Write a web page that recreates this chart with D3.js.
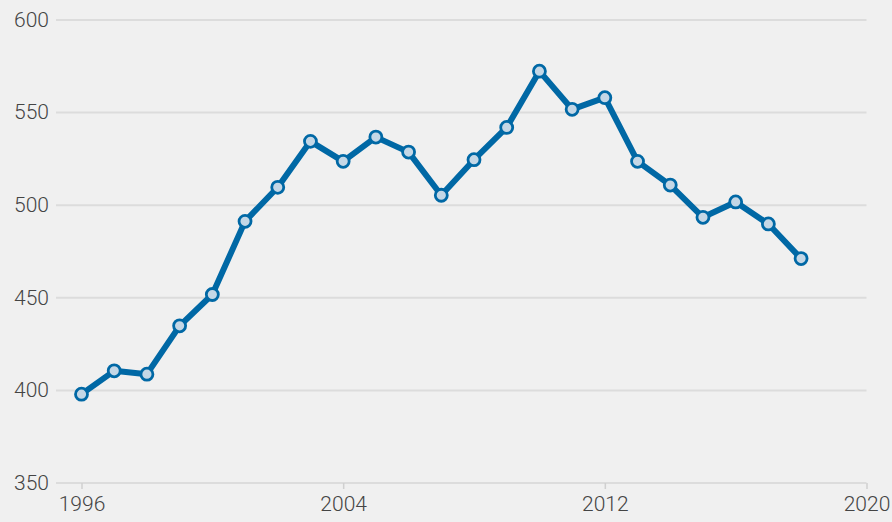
<!DOCTYPE html>
<html>
<head>
<meta charset="utf-8">
<script src="https://cdn.jsdelivr.net/npm/d3@7"></script>
<style>
  html, body { margin: 0; padding: 0; background: #f0f0f0; }
  svg { display: block; }
  .tick text { font-family: Roboto, sans-serif; font-weight: 300; font-size: 21px; fill: #444; }
</style>
</head>
<body>
<script>
var years = [1996,1997,1998,1999,2000,2001,2002,2003,2004,2005,2006,2007,2008,2009,2010,2011,2012,2013,2014,2015,2016,2017,2018];
var values = [397.7,410.3,408.5,434.6,451.5,491,509.4,534.2,523.4,536.5,528.4,505.1,524.3,541.7,572.1,551.5,557.8,523.4,510.6,493.2,501.5,489.6,470.9];
var xTicks = [1996,2004,2012,2020];
var yTicks = [350,400,450,500,550,600];

var width = 892;
var height = 522;
var gridLeft = 56;

var svg = d3.select('body')
			.append('svg')
			.attr('width',width)
			.attr('height',height);

var xScale = d3.scaleLinear()
				.domain([1996,2020])
				.range([81.5,866.5]);
var yScale = d3.scaleLinear()
				.domain([350,600])
				.range([482.5,19.5]);

// y grid + labels
var yAxis = svg.append('g')
				.attr('transform','translate('+gridLeft+',0)')
				.call(d3.axisLeft(yScale).tickValues(yTicks).tickSize(-(866.5-gridLeft)).tickPadding(7));
yAxis.select('.domain').remove();
yAxis.selectAll('.tick line').style('stroke','#dcdcdc').style('stroke-width',2);

// x ticks + labels
var xAxis = svg.append('g')
				.attr('transform','translate(0,483)')
				.call(d3.axisBottom(xScale).tickValues(xTicks).tickFormat(d3.format('d')).tickSize(6).tickPadding(7));
xAxis.select('.domain').remove();
xAxis.selectAll('.tick line').style('stroke','#d0d0d0').style('stroke-width',1.5);

var line = d3.line()
			.x((d,i)=>xScale(years[i]))
			.y((d)=>yScale(d));

svg.append('path')
	.datum(values)
	.attr('d',line)
	.attr('fill','none')
	.attr('stroke','#0068a5')
	.attr('stroke-width',6)
	.attr('stroke-linejoin','round');

svg.append('g')
	.selectAll('circle')
	.data(values)
	.enter()
	.append('circle')
	.attr('cx',(d,i)=>xScale(years[i]))
	.attr('cy',(d)=>yScale(d))
	.attr('r',6)
	.attr('fill','#c4d7e6')
	.attr('stroke','#0068a5')
	.attr('stroke-width',2.8);
</script>
</body>
</html>
